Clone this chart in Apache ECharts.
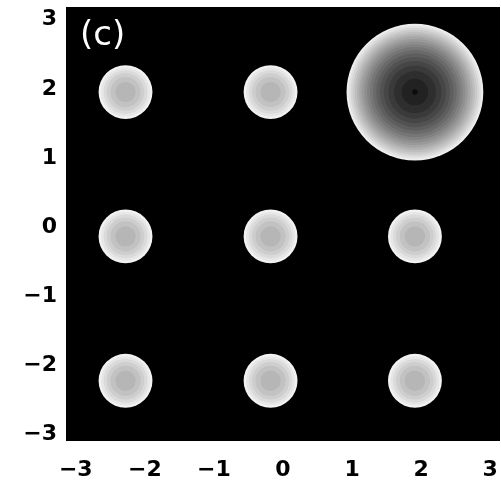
<!DOCTYPE html>
<html>
<head>
<meta charset="utf-8">
<style>
  html, body { margin: 0; padding: 0; background: #fff; }
  #chart { width: 501px; height: 482px; }
</style>
<script src="https://cdn.jsdelivr.net/npm/echarts@6/dist/echarts.min.js"></script>
</head>
<body>
<div id="chart"></div>
<script>
// Blob centres, radii and shading (grey level at the core and at the rim)
const blobX = [-2.28, -0.18, 1.91, -2.28, -0.18, 1.91, -2.28, -0.18, 1.91];
const blobY = [1.91, 1.91, 1.91, -0.18, -0.18, -0.18, -2.27, -2.27, -2.27];
const blobRadius = [0.39, 0.39, 0.99, 0.39, 0.39, 0.39, 0.39, 0.39, 0.39];
const coreGrey = [172, 172, 26, 172, 172, 172, 172, 172, 172];
const rimGrey = [242, 242, 238, 242, 242, 242, 242, 242, 242];

const tickValues = [-3, -2, -1, 0, 1, 2, 3];
const axisMin = -Math.PI;
const axisMax = Math.PI;
const panelLabel = '(c)';

// Contour step between shading bands, in grey levels
const bandStep = 12;

const blobData = blobX.map((x, i) => [x, blobY[i], blobRadius[i], coreGrey[i], rimGrey[i]]);

function grey(v) {
  const g = Math.max(0, Math.min(255, Math.round(v)));
  return 'rgb(' + g + ',' + g + ',' + g + ')';
}

function renderBlob(params, api) {
  const cx = api.value(0), cy = api.value(1), r = api.value(2);
  const core = api.value(3), rim = api.value(4);
  const c = api.coord([cx, cy]);
  const size = api.size([r, r]);
  const R = (size[0] + size[1]) / 2;
  const span = rim - core;
  const children = [];
  // Filled contour bands: grey rises with the square of the radius
  let level = rim;
  while (level > core - 1e-6) {
    const frac = Math.max(0, (level - core) / span);
    const rr = R * Math.sqrt(frac);
    if (rr < 0.6) break;
    children.push({
      type: 'circle',
      shape: { cx: c[0], cy: c[1], r: rr },
      style: { fill: grey(level) }
    });
    level -= bandStep;
  }
  // the deep blob ends in a darker pit at its centre
  if (span > 100) {
    children.push({
      type: 'circle',
      shape: { cx: c[0], cy: c[1], r: Math.max(1.5, R * 0.04) },
      style: { fill: grey(core - 14) }
    });
  }
  return { type: 'group', children: children };
}

const fmt = v => String(v).replace('-', '\u2212');
const labelFont = { fontFamily: 'DejaVu Sans', fontWeight: 'bold', fontSize: 22, color: '#000' };

const chart = echarts.init(document.getElementById('chart'), null, { renderer: 'canvas' });
chart.setOption({
  animation: false,
  backgroundColor: '#fff',
  grid: {
    left: 66, top: 7, width: 434, height: 434,
    show: true, backgroundColor: '#000', borderWidth: 0
  },
  title: {
    text: panelLabel,
    left: 75, top: 14,
    textStyle: { color: '#fff', fontFamily: 'DejaVu Sans', fontWeight: 'normal', fontSize: 34 }
  },
  xAxis: {
    type: 'value', min: axisMin, max: axisMax,
    axisLine: { show: false }, axisTick: { show: false }, splitLine: { show: false },
    axisLabel: Object.assign({ customValues: tickValues, formatter: fmt, margin: 18 }, labelFont)
  },
  yAxis: {
    type: 'value', min: axisMin, max: axisMax,
    axisLine: { show: false }, axisTick: { show: false }, splitLine: { show: false },
    axisLabel: Object.assign({
      customValues: tickValues,
      formatter: v => '{d|' + fmt(v) + '}',
      margin: 9,
      rich: { d: Object.assign({ padding: [6, 0, 0, 0] }, labelFont) }
    }, labelFont)
  },
  series: [{
    type: 'custom',
    renderItem: renderBlob,
    data: blobData,
    clip: true
  }]
});
</script>
</body>
</html>
